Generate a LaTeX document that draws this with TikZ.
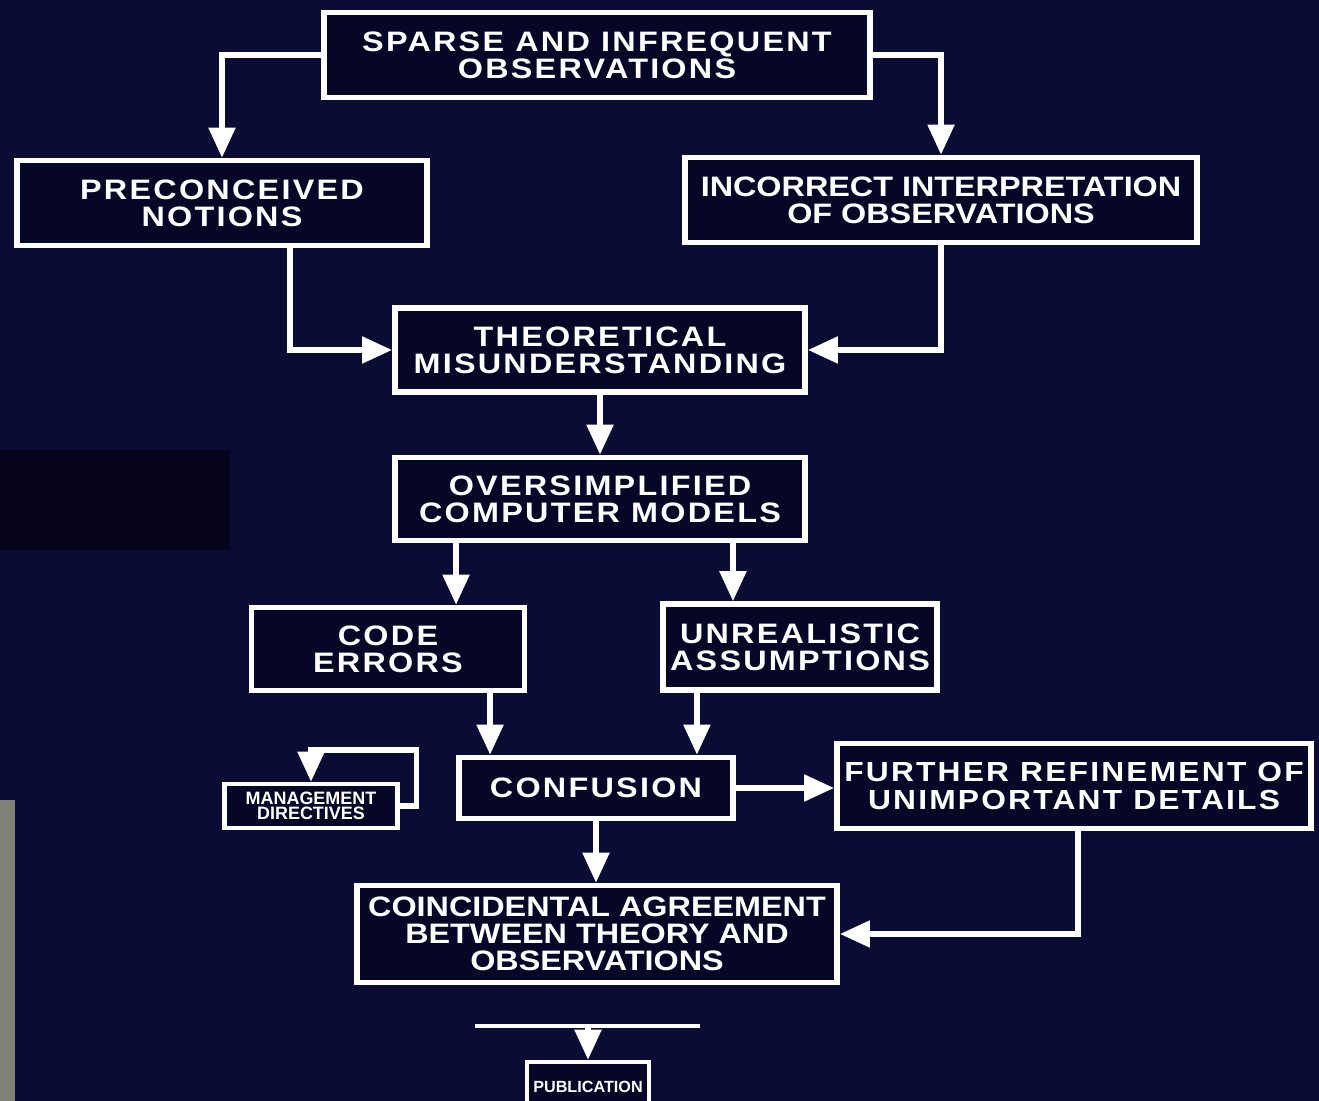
\documentclass[tikz,border=0pt]{standalone}
\usepackage{fontspec}
\newfontfamily\slidefont{Liberation Sans}[FakeStretch=1.15,LetterSpace=8]
\newfontfamily\slidefonttight{Liberation Sans}[FakeStretch=1.15]
\newfontfamily\labelfont{Liberation Sans}
\usetikzlibrary{arrows.meta}
\definecolor{slidebg}{RGB}{11,12,54}
\definecolor{boxbg}{RGB}{6,6,38}
\definecolor{patch}{RGB}{5,4,26}
\definecolor{edge}{RGB}{128,130,120}
\tikzset{
  box/.style={draw=white, line width=1.6pt, fill=boxbg, text=white, align=center,
    inner sep=0pt, font=\slidefont\bfseries\fontsize{8}{7.7}\selectfont},
  tightbox/.style={box, font=\slidefonttight\bfseries\fontsize{8}{7.7}\selectfont},
  smallbox/.style={box, line width=1.3pt, font=\labelfont\bfseries\fontsize{5.1}{4.1}\selectfont},
  flow/.style={draw=white, line width=1.5pt, -{Triangle[length=0.3cm,width=0.26cm]}},
  rule/.style={draw=white, line width=1.2pt}
}
\begin{document}
\begin{tikzpicture}[x=0.01cm,y=-0.01cm]
  \fill[slidebg] (0,0) rectangle (1319,1101);
  \useasboundingbox (0,0) rectangle (1319,1101);
  \fill[patch] (0,450) rectangle (230,550);
  \fill[edge] (0,800) rectangle (15,1101);
  \node[box, minimum width=5.46cm, minimum height=0.85cm] (sparse) at (597,55) {SPARSE AND INFREQUENT\\OBSERVATIONS};
  \node[box, minimum width=4.1cm, minimum height=0.85cm] (preconceived) at (222,203) {PRECONCEIVED\\NOTIONS};
  \node[tightbox, minimum width=5.12cm, minimum height=0.85cm] (incorrect) at (941,200) {INCORRECT INTERPRETATION\\OF OBSERVATIONS};
  \node[box, minimum width=4.1cm, minimum height=0.84cm] (theoretical) at (600,350) {THEORETICAL\\MISUNDERSTANDING};
  \node[box, minimum width=4.1cm, minimum height=0.83cm] (oversimplified) at (600,499) {OVERSIMPLIFIED\\COMPUTER MODELS};
  \node[box, minimum width=2.73cm, minimum height=0.83cm] (code) at (388,649) {CODE\\ERRORS};
  \node[box, minimum width=2.74cm, minimum height=0.86cm] (unrealistic) at (800,647) {UNREALISTIC\\ASSUMPTIONS};
  \node[box, minimum width=2.74cm, minimum height=0.61cm] (confusion) at (596,788) {CONFUSION};
  \node[box, minimum width=4.74cm, minimum height=0.85cm, font=\slidefont\bfseries\fontsize{7.85}{7.7}\selectfont] (further) at (1074,786) {FURTHER REFINEMENT OF\\UNIMPORTANT DETAILS};
  \node[tightbox, minimum width=4.8cm, minimum height=0.97cm] (coincidental) at (597,934) {COINCIDENTAL AGREEMENT\\BETWEEN THEORY AND\\OBSERVATIONS};
  \node[smallbox, minimum width=1.73cm, minimum height=0.44cm] (management) at (311,806) {MANAGEMENT\\DIRECTIVES};
  \node[smallbox, minimum width=1.22cm, minimum height=0.5cm, font=\labelfont\bfseries\fontsize{4.6}{4.6}\selectfont] (publication) at (588,1087) {PUBLICATION};
  \coordinate (barleft) at (475,1026);
  \coordinate (barright) at (700,1026);
  \begin{scope}[flow]
    \draw (sparse.west) -| (preconceived.north);
    \draw (sparse.east) -| (incorrect.north);
    \draw ([xshift=0.68cm]preconceived.south) |- (theoretical.west);
    \draw (incorrect.south) |- (theoretical.east);
    \draw (theoretical.south) -- (oversimplified.north);
    \draw ([xshift=0.68cm]code.north |- oversimplified.south) -- ([xshift=0.68cm]code.north);
    \draw ([xshift=-0.67cm]unrealistic.north |- oversimplified.south) -- ([xshift=-0.67cm]unrealistic.north);
    \draw ([xshift=1.02cm]code.south) -- ([xshift=1.02cm]code.south |- confusion.north);
    \draw ([xshift=-1.03cm]unrealistic.south) -- ([xshift=-1.03cm]unrealistic.south |- confusion.north);
    \draw (confusion.east) -- (confusion.east -| further.west);
    \draw (confusion.south) -- (confusion.south |- coincidental.north);
    \draw ([xshift=0.04cm]further.south) |- (coincidental.east);
    \draw (management.east) -- ++(17,0) -- ++(0,-56) -| (management.north);
    \draw (barleft -| publication.north) -- (publication.north);
  \end{scope}
  \draw[rule] (barleft) -- (barright);
\end{tikzpicture}
\end{document}
